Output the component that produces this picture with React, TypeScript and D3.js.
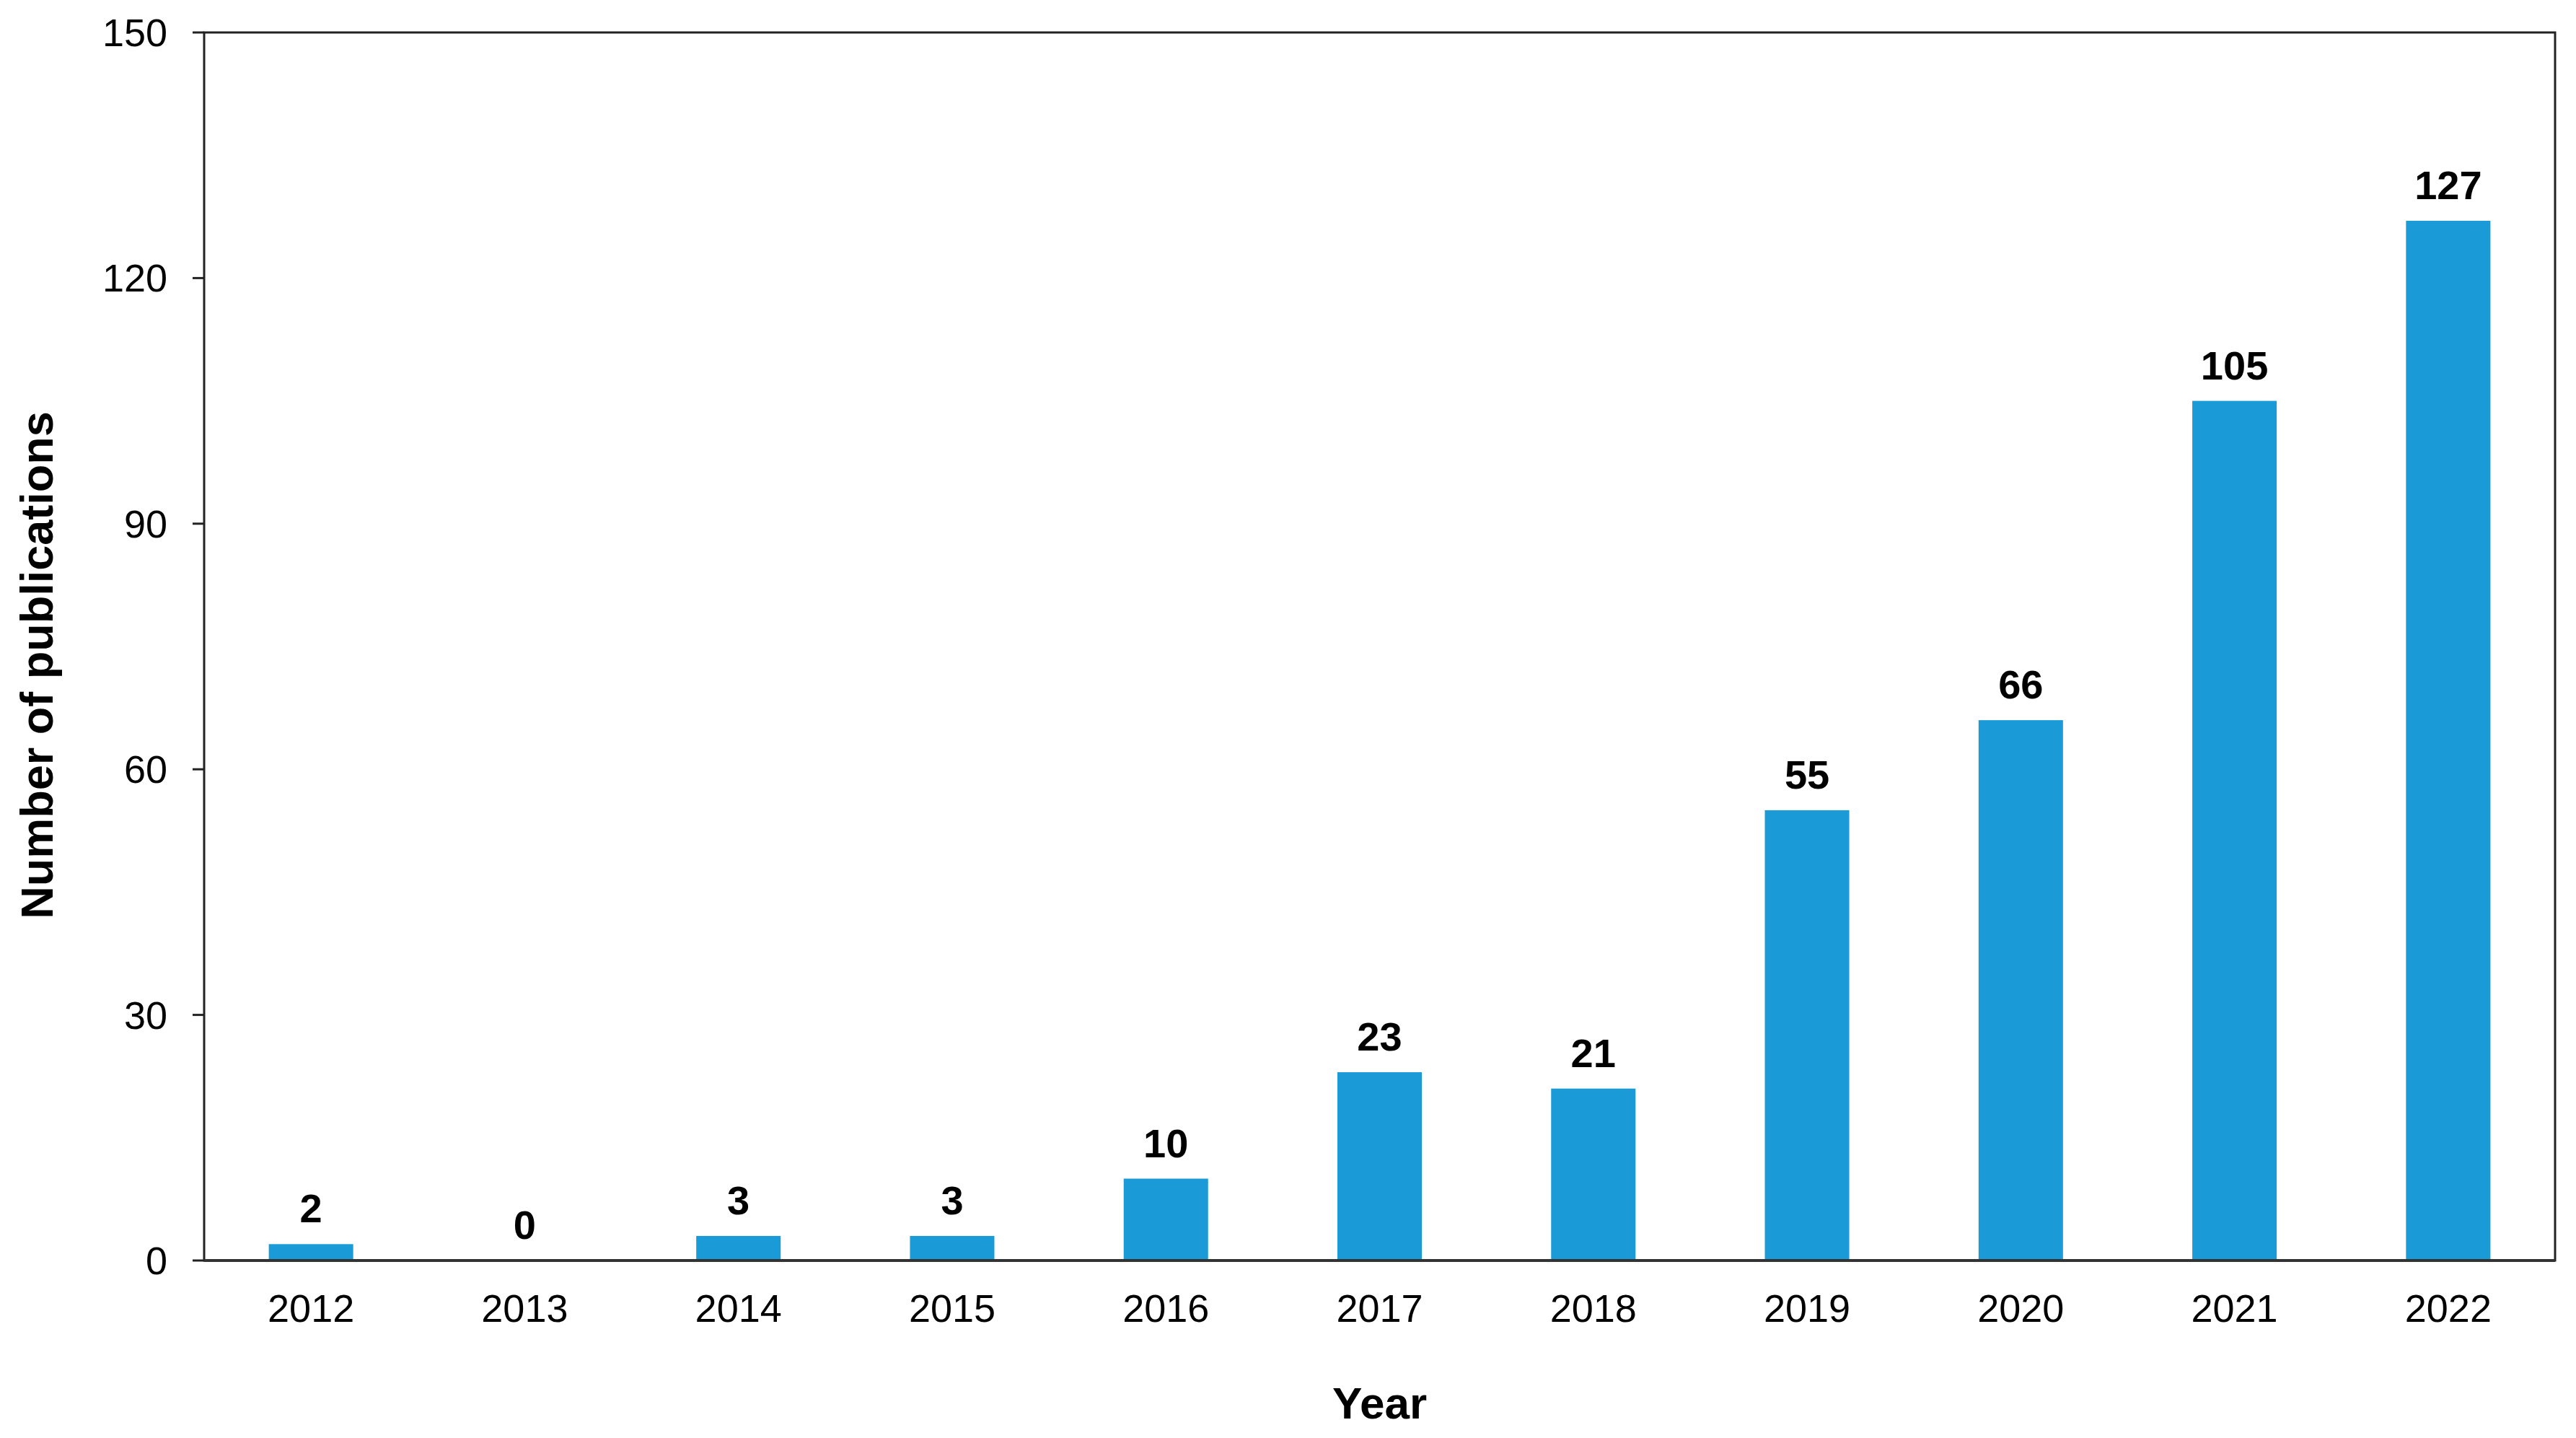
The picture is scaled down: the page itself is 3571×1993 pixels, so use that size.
import React from "react";
import * as d3 from "d3";

const years = ["2012", "2013", "2014", "2015", "2016", "2017", "2018", "2019", "2020", "2021", "2022"];
const publications = [2, 0, 3, 3, 10, 23, 21, 55, 66, 105, 127];
const yTicks = [0, 30, 60, 90, 120, 150];

const W = 3571;
const H = 1993;
const M = { left: 283, right: 3542, top: 45, bottom: 1747 };
const FONT = "'Liberation Sans', Arial, Helvetica, sans-serif";
const BAR = "#1a9bd7";

export default function App() {
  const x = d3.scaleBand<string>().domain(years).range([M.left, M.right]).paddingInner(0.605).paddingOuter(0.3025);
  const y = d3.scaleLinear().domain([0, 150]).range([M.bottom, M.top]);

  return (
    <svg width={W} height={H} style={{ position: "absolute", left: 0, top: 0, background: "#fff" }} fontFamily={FONT}>
      <rect x={0} y={0} width={W} height={H} fill="#fff" />
      {years.map((yr, i) => (
        <rect key={yr} x={x(yr)} y={y(publications[i])} width={x.bandwidth()} height={y(0) - y(publications[i])} fill={BAR} />
      ))}
      {years.map((yr, i) => (
        <text key={"v" + yr} x={(x(yr) as number) + x.bandwidth() / 2} y={y(publications[i]) - 30} textAnchor="middle" fontSize={56} fontWeight="bold" fill="#000">
          {publications[i]}
        </text>
      ))}
      {/* frame */}
      <rect x={M.left} y={M.top} width={M.right - M.left} height={M.bottom - M.top} fill="none" stroke="#222" strokeWidth={3} />
      <line x1={M.left} x2={M.right} y1={M.bottom} y2={M.bottom} stroke="#333" strokeWidth={4} />
      {yTicks.map((t) => (
        <g key={"t" + t}>
          <line x1={M.left - 16} x2={M.left} y1={y(t)} y2={y(t)} stroke="#222" strokeWidth={3} />
          <text x={232} y={y(t) + 19} textAnchor="end" fontSize={54} fill="#000">
            {t}
          </text>
        </g>
      ))}
      {years.map((yr) => (
        <text key={"x" + yr} x={(x(yr) as number) + x.bandwidth() / 2} y={1832} textAnchor="middle" fontSize={54} fill="#000">
          {yr}
        </text>
      ))}
      <text x={(M.left + M.right) / 2} y={1966} textAnchor="middle" fontSize={62} fontWeight="bold" fill="#000">
        Year
      </text>
      <text transform={`translate(73, 922) rotate(-90)`} textAnchor="middle" fontSize={63} fontWeight="bold" fill="#000">
        Number of publications
      </text>
    </svg>
  );
}
